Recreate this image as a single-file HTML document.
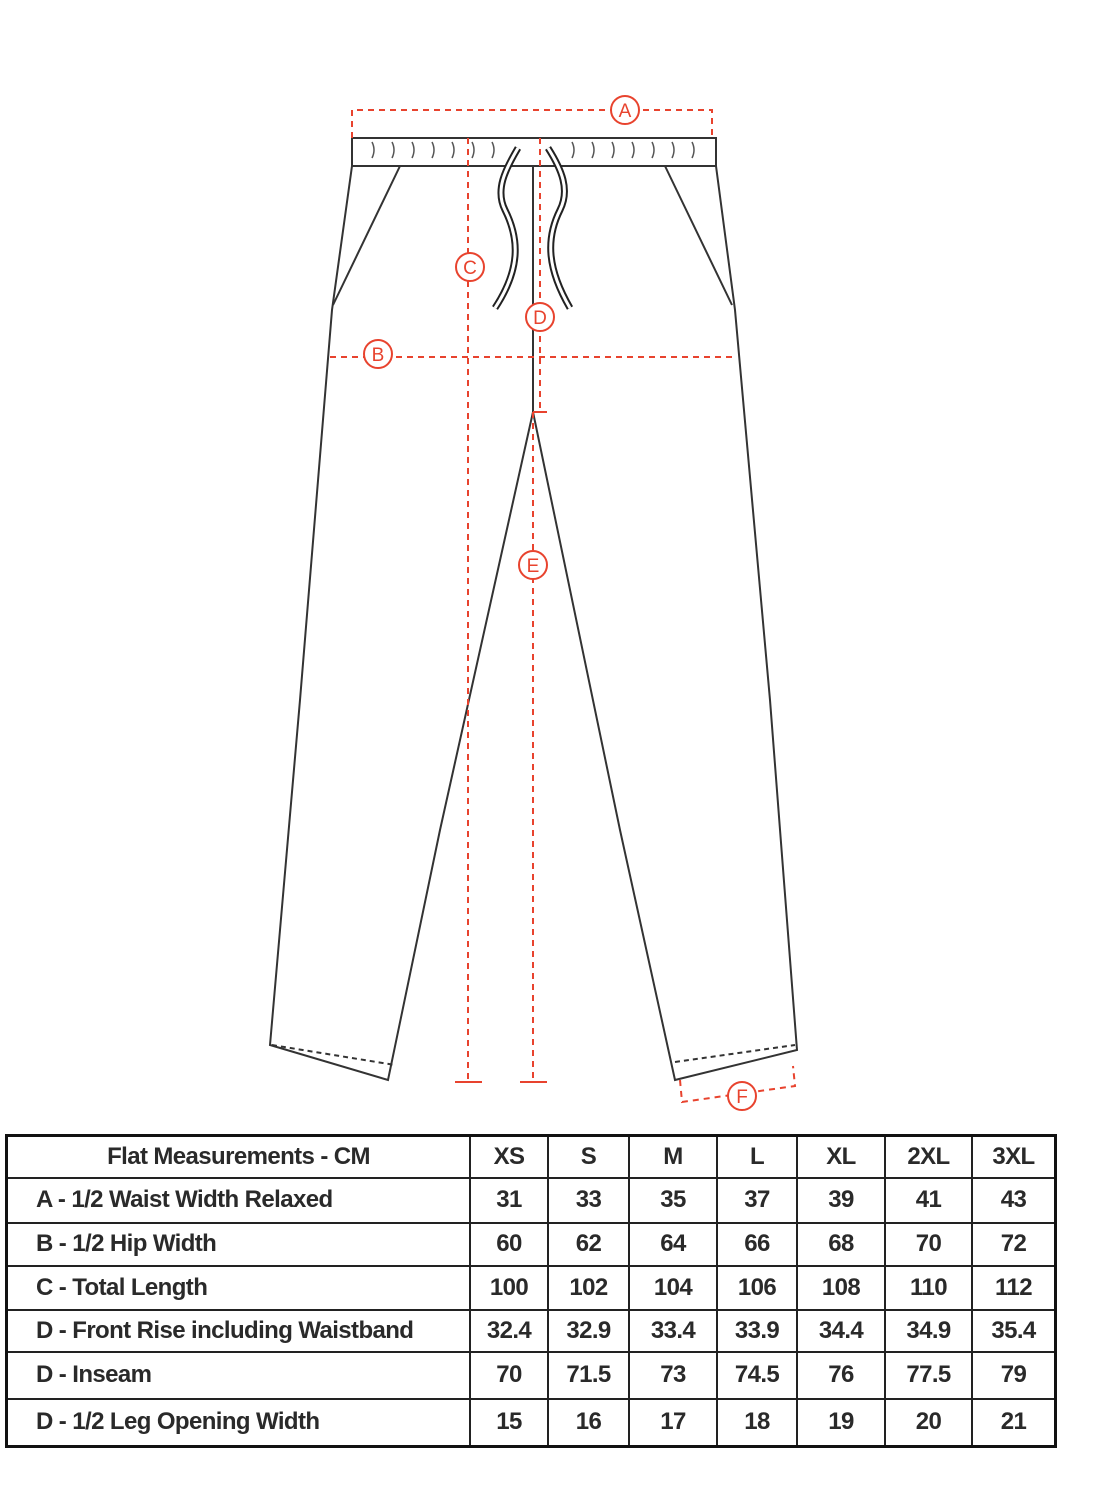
<!DOCTYPE html>
<html><head><meta charset="utf-8"><style>
html,body{margin:0;padding:0;background:#fff;}
body{width:1103px;height:1498px;position:relative;overflow:hidden;font-family:"Liberation Sans Narrow","Liberation Sans",sans-serif;}
svg{position:absolute;left:0;top:0;}
table{position:absolute;left:5px;top:1134px;width:1052px;height:313px;border-collapse:collapse;border:3px solid #111;}
td{border:2px solid #222;font-size:24px;font-weight:bold;letter-spacing:-0.6px;color:#2a2a2a;text-align:center;padding:0;line-height:1;}
td:first-child{text-align:left;padding-left:28px;width:433px;}
tr:first-child td:first-child{text-align:center;padding-left:0;}
</style></head><body>
<svg width="1103" height="1130" viewBox="0 0 1103 1130">
<g fill="none" stroke="#333" stroke-width="2">
<rect x="352" y="138" width="364" height="28"/>
<path d="M352 166 L332 310 L300 700 L270 1045 L388 1080 L440 830 L533 412 L620 830 L675 1080 L797 1050 L770 700 L735 310 L716 166"/>
<path d="M533 166 L533 412"/>
<path d="M400 166 L333 305 M665 166 L732 305"/>
<path d="M272 1045 L395 1065 M675 1062 L795 1045" stroke-dasharray="5 4"/>
<g stroke-width="1.5" stroke="#555">
<path d="M372 142 q4 8 0 16 M392 142 q4 8 0 16 M412 142 q4 8 0 16 M432 142 q4 8 0 16 M452 142 q4 8 0 16 M472 142 q4 8 0 16 M492 142 q4 8 0 16 M572 142 q4 8 0 16 M592 142 q4 8 0 16 M612 142 q4 8 0 16 M632 142 q4 8 0 16 M652 142 q4 8 0 16 M672 142 q4 8 0 16 M692 142 q4 8 0 16"/>
</g>
</g>
<g fill="none">
<path d="M518 148 C505 170 495 190 505 210 C520 240 520 270 495 308 M548 148 C562 170 570 190 560 210 C545 240 548 270 570 308" stroke="#222" stroke-width="7"/>
<path d="M518 148 C505 170 495 190 505 210 C520 240 520 270 495 308 M548 148 C562 170 570 190 560 210 C545 240 548 270 570 308" stroke="#fff" stroke-width="3"/>
</g>
<g fill="none" stroke="#e8432e" stroke-width="2" stroke-dasharray="6 5">
<path d="M352 138 L352 110 L712 110 L712 138"/>
<path d="M468 138 L468 1082"/>
<path d="M540 138 L540 412"/>
<path d="M533 412 L533 1082"/>
<path d="M330 357 L735 357"/>
<path d="M680 1080 L682 1102 L795 1086 L793 1066"/>
</g>
<g stroke="#e8432e" stroke-width="2">
<path d="M455 1082 H482 M520 1082 H547 M533 412 H547"/>
</g>
<g fill="#fff" stroke="#e8432e" stroke-width="2">
<circle cx="625" cy="110" r="14"/><circle cx="470" cy="267" r="14"/><circle cx="540" cy="317" r="14"/>
<circle cx="378" cy="354" r="14"/><circle cx="533" cy="565" r="14"/><circle cx="742" cy="1096" r="14"/>
</g>
<g fill="#e8432e" font-family="Liberation Sans,sans-serif" font-size="19" text-anchor="middle">
<text x="625" y="117">A</text><text x="470" y="274">C</text><text x="540" y="324">D</text>
<text x="378" y="361">B</text><text x="533" y="572">E</text><text x="742" y="1103">F</text>
</g>
</svg>
<table>
<tr style="height:42px"><td>Flat Measurements - CM</td><td style="width:76px">XS</td><td style="width:79px">S</td><td style="width:86px">M</td><td style="width:78px">L</td><td style="width:86px">XL</td><td style="width:85px">2XL</td><td>3XL</td></tr>
<tr style="height:45px"><td>A - 1/2 Waist Width Relaxed</td><td>31</td><td>33</td><td>35</td><td>37</td><td>39</td><td>41</td><td>43</td></tr>
<tr style="height:43px"><td>B - 1/2 Hip Width</td><td>60</td><td>62</td><td>64</td><td>66</td><td>68</td><td>70</td><td>72</td></tr>
<tr style="height:44px"><td>C - Total Length</td><td>100</td><td>102</td><td>104</td><td>106</td><td>108</td><td>110</td><td>112</td></tr>
<tr style="height:42px"><td>D - Front Rise including Waistband</td><td>32.4</td><td>32.9</td><td>33.4</td><td>33.9</td><td>34.4</td><td>34.9</td><td>35.4</td></tr>
<tr style="height:47px"><td>D - Inseam</td><td>70</td><td>71.5</td><td>73</td><td>74.5</td><td>76</td><td>77.5</td><td>79</td></tr>
<tr style="height:48px"><td>D - 1/2 Leg Opening Width</td><td>15</td><td>16</td><td>17</td><td>18</td><td>19</td><td>20</td><td>21</td></tr>
</table>
</body></html>
